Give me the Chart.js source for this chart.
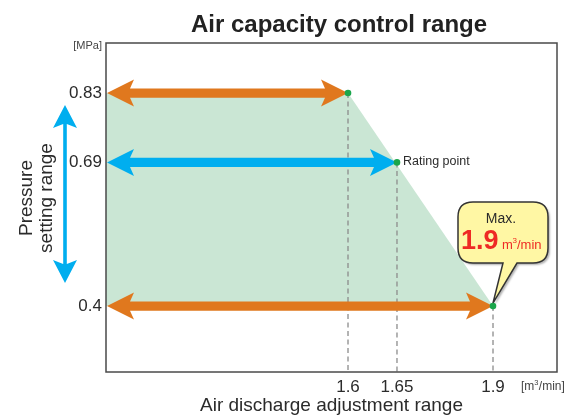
<!DOCTYPE html>
<html>
<head>
<meta charset="utf-8">
<script src="https://cdn.jsdelivr.net/npm/chart.js@4.4.0/dist/chart.umd.min.js"></script>
<style>
  html, body { margin: 0; padding: 0; background: #fff; }
  canvas { display: block; }
</style>
</head>
<body>
<canvas id="chart" width="572" height="418"></canvas>
<script>
// ── data ───────────────────────────────────────────
const FLOW      = [1.6, 1.65, 1.9];      // m³/min
const PRESSURE  = [0.83, 0.69, 0.4];     // MPa
const X_TICKS   = [1.6, 1.65, 1.9];
const Y_TICKS   = [0.83, 0.69, 0.4];
const X_MIN = 0,     X_MAX = 2.07;
const Y_MIN = 0.267, Y_MAX = 0.931;
const RATING_INDEX = 1;
const MAX_INDEX    = 2;

// the x axis is drawn out of scale in the original — breakpoints of the axis
const X_KNOTS     = [0, 1.6, 1.65, 1.9, 2.07];
const X_KNOT_FRAC = [0, 0.5366, 0.6452, 0.8581, 1];

const FONT      = '"Liberation Sans", Arial, sans-serif';
const ORANGE    = '#e0781e';
const BLUE      = '#00aeef';
const ARROW_COLORS = [ORANGE, BLUE, ORANGE];
const TEXT      = '#2b2b2b';

function interp(v, from, to) {
    let i = 1;
    while (i < from.length - 1 && v > from[i]) i++;
    const t = (v - from[i - 1]) / (from[i] - from[i - 1]);
    return to[i - 1] + t * (to[i] - to[i - 1]);
}

class PiecewiseScale extends Chart.LinearScale {
    static id = 'piecewise';
    static defaults = {};
    getPixelForValue(value) {
        return this.getPixelForDecimal(interp(value, X_KNOTS, X_KNOT_FRAC));
    }
    getValueForPixel(pixel) {
        return interp(this.getDecimalForPixel(pixel), X_KNOT_FRAC, X_KNOTS);
    }
}
Chart.register(PiecewiseScale);

// double headed, barbed arrow (horizontal)
function hArrow(ctx, x1, x2, y, color) {
    const L = 27, H = 13.5, h = 4.6, N = 4;
    ctx.beginPath();
    ctx.moveTo(x1, y);
    ctx.lineTo(x1 + L, y - H);
    ctx.lineTo(x1 + L - N, y - h);
    ctx.lineTo(x2 - L + N, y - h);
    ctx.lineTo(x2 - L, y - H);
    ctx.lineTo(x2, y);
    ctx.lineTo(x2 - L, y + H);
    ctx.lineTo(x2 - L + N, y + h);
    ctx.lineTo(x1 + L - N, y + h);
    ctx.lineTo(x1 + L, y + H);
    ctx.closePath();
    ctx.fillStyle = color;
    ctx.fill();
}

function vArrow(ctx, x, y1, y2, color) {
    const L = 23, H = 12, h = 1.8, N = 4;
    ctx.beginPath();
    ctx.moveTo(x, y1);
    ctx.lineTo(x + H, y1 + L);
    ctx.lineTo(x + h, y1 + L - N);
    ctx.lineTo(x + h, y2 - L + N);
    ctx.lineTo(x + H, y2 - L);
    ctx.lineTo(x, y2);
    ctx.lineTo(x - H, y2 - L);
    ctx.lineTo(x - h, y2 - L + N);
    ctx.lineTo(x - h, y1 + L - N);
    ctx.lineTo(x - H, y1 + L);
    ctx.closePath();
    ctx.fillStyle = color;
    ctx.fill();
}

function callout(ctx, tipX, tipY) {
    const l = 458, t = 202, r = 548, b = 263, rad = 15;
    ctx.save();
    ctx.beginPath();
    ctx.moveTo(l + rad, t);
    ctx.lineTo(r - rad, t);
    ctx.quadraticCurveTo(r, t, r, t + rad);
    ctx.lineTo(r, b - rad);
    ctx.quadraticCurveTo(r, b, r - rad, b);
    ctx.lineTo(517, b);
    ctx.lineTo(tipX, tipY - 3);
    ctx.lineTo(503, b);
    ctx.lineTo(l + rad, b);
    ctx.quadraticCurveTo(l, b, l, b - rad);
    ctx.lineTo(l, t + rad);
    ctx.quadraticCurveTo(l, t, l + rad, t);
    ctx.closePath();
    ctx.shadowColor = 'rgba(0,0,0,0.3)';
    ctx.shadowOffsetX = 2; ctx.shadowOffsetY = 2; ctx.shadowBlur = 2;
    ctx.fillStyle = '#fff7a4';
    ctx.fill();
    ctx.shadowColor = 'transparent';
    ctx.lineWidth = 1.5;
    ctx.strokeStyle = '#333';
    ctx.stroke();

    ctx.fillStyle = TEXT;
    ctx.textAlign = 'center';
    ctx.textBaseline = 'alphabetic';
    ctx.font = '14px ' + FONT;
    ctx.fillText('Max.', 501, 223);

    ctx.fillStyle = '#ee2a24';
    ctx.textAlign = 'left';
    ctx.font = 'bold 27px ' + FONT;
    ctx.fillText(String(FLOW[MAX_INDEX]), 461, 249);
    ctx.font = '13px ' + FONT;
    ctx.fillText('m', 502, 249);
    ctx.font = '8px ' + FONT;
    ctx.fillText('3', 512.5, 243);
    ctx.font = '13px ' + FONT;
    ctx.fillText('/min', 517, 249);
    ctx.restore();
}

const overlay = {
    id: 'overlay',
    beforeDatasetDraw(chart, args) {
        if (chart.data.datasets[args.index].label !== 'points') return;
        const { ctx, scales: { x, y } } = chart;
        const x0 = x.getPixelForValue(X_MIN) + 1;
        ctx.save();
        FLOW.forEach((f, i) => hArrow(ctx, x0, x.getPixelForValue(f), y.getPixelForValue(PRESSURE[i]), ARROW_COLORS[i]));
        callout(ctx, x.getPixelForValue(FLOW[MAX_INDEX]), y.getPixelForValue(PRESSURE[MAX_INDEX]));
        ctx.restore();
    },
    afterDraw(chart) {
        const { ctx, chartArea: a, scales: { x, y } } = chart;
        ctx.save();
        // plot frame
        ctx.strokeStyle = '#4a4a4a';
        ctx.lineWidth = 1.5;
        ctx.strokeRect(a.left, a.top, a.right - a.left, a.bottom - a.top);

        // title
        ctx.fillStyle = '#222';
        ctx.textAlign = 'center';
        ctx.textBaseline = 'alphabetic';
        ctx.font = 'bold 24px ' + FONT;
        ctx.fillText('Air capacity control range', 339, 32);

        // units
        ctx.fillStyle = '#444';
        ctx.textAlign = 'right';
        ctx.font = '11px ' + FONT;
        ctx.fillText('[MPa]', a.left - 4, 49);
        ctx.textAlign = 'left';
        ctx.font = '12px ' + FONT;
        ctx.fillText('[m', 521, 390);
        const wm = ctx.measureText('[m').width;
        ctx.font = '7.5px ' + FONT;
        ctx.fillText('3', 521 + wm, 385);
        ctx.font = '12px ' + FONT;
        ctx.fillText('/min]', 521 + wm + 4.5, 390);

        // rating point label
        ctx.fillStyle = TEXT;
        ctx.font = '12.5px ' + FONT;
        ctx.textBaseline = 'middle';
        ctx.fillText('Rating point', x.getPixelForValue(FLOW[RATING_INDEX]) + 6, y.getPixelForValue(PRESSURE[RATING_INDEX]) - 1);

        // pressure setting range
        vArrow(ctx, 65, 105, 283, BLUE);
        ctx.save();
        ctx.translate(37, 198);
        ctx.rotate(-Math.PI / 2);
        ctx.fillStyle = TEXT;
        ctx.textAlign = 'center';
        ctx.textBaseline = 'middle';
        ctx.font = '19px ' + FONT;
        ctx.fillText('Pressure', 0, -10);
        ctx.fillText('setting range', 0, 10);
        ctx.restore();
        ctx.restore();
    }
};

const areaData = [
    { x: X_MIN,   y: PRESSURE[0] },
    { x: FLOW[0], y: PRESSURE[0] },
    { x: FLOW[2], y: PRESSURE[2] },
];

const dropLines = FLOW.map((f, i) => ({
    label: 'drop' + i,
    data: [{ x: f, y: PRESSURE[i] }, { x: f, y: Y_MIN }],
    borderColor: '#8c8c8c', borderWidth: 1.3, borderDash: [5, 3.5],
    pointRadius: 0, fill: false, order: 2,
}));

new Chart(document.getElementById('chart').getContext('2d'), {
    type: 'line',
    data: {
        datasets: [
            {
                label: 'area', data: areaData,
                fill: { value: PRESSURE[2] }, backgroundColor: '#cae6d4',
                borderWidth: 0, pointRadius: 0, tension: 0, order: 3,
            },
            ...dropLines,
            {
                label: 'points',
                data: FLOW.map((f, i) => ({ x: f, y: PRESSURE[i] })),
                showLine: false, pointRadius: 3.3, pointBackgroundColor: '#1aa64b',
                pointBorderWidth: 0, order: 0,
            },
        ]
    },
    options: {
        responsive: false, animation: false,
        layout: { padding: { top: 43, right: 15, bottom: 0, left: 0 } },
        plugins: { legend: { display: false }, tooltip: { enabled: false } },
        scales: {
            x: {
                type: 'piecewise', min: X_MIN, max: X_MAX,
                grid: { display: false, drawTicks: false }, border: { display: false },
                afterBuildTicks: s => { s.ticks = X_TICKS.map(v => ({ value: v })); },
                afterFit: s => { s.height = 46; },
                ticks: { callback: v => String(v), color: TEXT, padding: 5, maxRotation: 0, autoSkip: false,
                         font: { family: FONT, size: 17 } },
                title: { display: true, text: 'Air discharge adjustment range', color: TEXT,
                         padding: { top: 0, bottom: 1 }, font: { family: FONT, size: 19 } }
            },
            y: {
                min: Y_MIN, max: Y_MAX,
                grid: { display: false, drawTicks: false }, border: { display: false },
                afterBuildTicks: s => { s.ticks = Y_TICKS.map(v => ({ value: v })); },
                afterFit: s => { s.width = 106; },
                ticks: { callback: v => String(v), color: TEXT, padding: 4,
                         font: { family: FONT, size: 17 } }
            }
        }
    },
    plugins: [overlay]
});
</script>
</body>
</html>
